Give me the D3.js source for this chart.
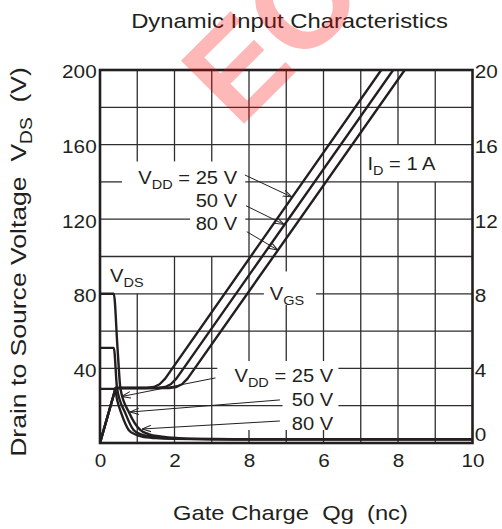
<!DOCTYPE html>
<html>
<head>
<meta charset="utf-8">
<script src="https://cdn.jsdelivr.net/npm/d3@7/dist/d3.min.js"></script>
<style>
  body { margin: 0; background: #fff; }
  text { font-family: "Liberation Sans", Arial, Helvetica, sans-serif; white-space: pre; }
</style>
</head>
<body>
<svg id="chart" width="502" height="529"></svg>
<script>
// ---- data ----
const qgTicks = [0, 2, 4, 6, 8, 10];
const qgTickLabels = ['0', '2', '8', '6', '8', '10'];   // printed that way on the original
const vdsTicks = [40, 80, 120, 160, 200];
const vgsTicks = [0, 4, 8, 12, 16, 20];
const vddLabels = ['25 V', '50 V', '80 V'];

// gate-source voltage (V) vs gate charge (nC), right axis
const vgs25 = [[0, 0], [0.42, 2.95], [1.25, 2.95], [1.45, 3.0], [1.6, 3.15], [1.75, 3.45], [7.55, 20]];
const vgs50 = [[0, 0], [0.42, 2.95], [1.55, 2.95], [1.75, 3.0], [1.9, 3.15], [2.05, 3.45], [7.87, 20]];
const vgs80 = [[0, 0], [0.42, 2.95], [1.85, 2.95], [2.05, 3.0], [2.2, 3.15], [2.35, 3.45], [8.18, 20]];

// drain-source voltage (V) vs gate charge (nC), left axis
const vds25 = [[0, 29], [0.4, 29], [0.46, 23], [0.57, 16], [0.77, 7], [0.95, 4.6], [1.13, 3.4], [1.5, 2.6], [2, 2.2], [3, 2], [10, 2]];
const vds50 = [[0, 51], [0.37, 51], [0.46, 29], [0.68, 16], [0.9, 7], [1.1, 4.7], [1.4, 3.4], [1.8, 2.6], [2.4, 2.2], [3.5, 2], [10, 2]];
const vds80 = [[0, 80], [0.37, 80], [0.47, 51], [0.55, 29], [0.79, 16], [1.08, 7], [1.3, 4.8], [1.66, 3.4], [2.1, 2.6], [2.7, 2.2], [4, 2], [10, 2]];

// ---- layout ----
const ink = '#231f20';
const svg = d3.select('#chart');
const x = d3.scaleLinear().domain([0, 10]).range([100, 472.5]);
const yL = d3.scaleLinear().domain([0, 200]).range([443, 70]);
const yR = d3.scaleLinear().domain([0, 20]).range([443, 70]);

svg.append('rect').attr('width', 502).attr('height', 529).attr('fill', '#fff');

svg.append('clipPath').attr('id', 'plot')
  .append('rect')
  .attr('x', x(0)).attr('y', yL(200))
  .attr('width', x(10) - x(0)).attr('height', yL(0) - yL(200));

// grid, with the gaps the original leaves behind its labels
const vGaps = { 1: [[80, 151]], 2: [[100, 151]], 3: [[100, 151]], 4: [[7, 44]], 5: [[74, 92], [7, 44]], 6: [[7, 44]], 8: [[140, 160]], 9: [[140, 160]] };
const hGaps = { 140: [[0.59, 3.9]], 120: [[2.42, 3.9]], 80: [[4.4, 5.8]], 40: [[3.15, 6.4]], 20: [[4.9, 6.4]] };

function segments(lo, hi, gaps) {
  let segs = [[lo, hi]];
  (gaps || []).forEach(([a, b]) => {
    segs = segs.flatMap(([s, e]) => {
      if (b <= s || a >= e) return [[s, e]];
      const out = [];
      if (a > s) out.push([s, a]);
      if (b < e) out.push([b, e]);
      return out;
    });
  });
  return segs;
}

const grid = svg.append('g').attr('stroke', '#2e2e2e').attr('stroke-width', 1.3);
d3.range(1, 10).forEach(q => {
  segments(0, 200, vGaps[q]).forEach(([a, b]) => {
    grid.append('line')
      .attr('x1', x(q)).attr('x2', x(q))
      .attr('y1', yL(a)).attr('y2', yL(b));
  });
});
d3.range(20, 200, 20).forEach(v => {
  segments(0, 10, hGaps[v]).forEach(([a, b]) => {
    grid.append('line')
      .attr('x1', x(a)).attr('x2', x(b))
      .attr('y1', yL(v)).attr('y2', yL(v));
  });
});

// curves
const lineL = d3.line().x(d => x(d[0])).y(d => yL(d[1])).curve(d3.curveMonotoneX);
const lineR = d3.line().x(d => x(d[0])).y(d => yR(d[1]));
const curves = svg.append('g').attr('clip-path', 'url(#plot)')
  .attr('fill', 'none').attr('stroke', ink).attr('stroke-width', 2.4)
  .attr('stroke-linejoin', 'round');
[vds25, vds50, vds80].forEach(s => curves.append('path').attr('d', lineL(s)));
[vgs25, vgs50, vgs80].forEach(s => curves.append('path').attr('d', lineR(s)));

// frame
svg.append('rect')
  .attr('x', x(0)).attr('y', yL(200))
  .attr('width', x(10) - x(0)).attr('height', yL(0) - yL(200))
  .attr('fill', 'none').attr('stroke', ink).attr('stroke-width', 2.6);

// axes (labels only)
function styleAxis(g) {
  g.select('.domain').remove();
  g.selectAll('text').attr('font-size', 18.5).attr('fill', ink)
    .attr('font-family', '"Liberation Sans", Arial, sans-serif')
    .attr('transform', 'scale(1.12,1)');
}
svg.append('g').attr('transform', `translate(${x(0)},0)`)
  .call(d3.axisLeft(yL).tickValues(vdsTicks).tickSize(0).tickPadding(3))
  .call(styleAxis)
  .selectAll('text').attr('y', 2);
svg.append('g').attr('transform', `translate(${x(10)},0)`)
  .call(d3.axisRight(yR).tickValues(vgsTicks).tickSize(0).tickPadding(2))
  .call(styleAxis)
  .selectAll('text').attr('y', d => d === 0 ? -8 : 2);
svg.append('g').attr('transform', `translate(0,${yL(0)})`)
  .call(d3.axisBottom(x).tickValues(qgTicks).tickFormat((d, i) => qgTickLabels[i]).tickSize(0).tickPadding(11))
  .call(styleAxis);

// text helper: parts are strings or {sub: '...'}
function richText(parts, o) {
  const t = svg.append('text')
    .attr('font-size', o.size)
    .attr('text-anchor', o.anchor || 'start')
    .attr('fill', ink);
  let prevSub = false;
  parts.forEach(p => {
    const sub = typeof p !== 'string';
    const s = t.append('tspan').text(sub ? p.sub : p);
    if (sub) s.attr('font-size', o.size * 0.72).attr('dy', o.size * 0.28);
    else if (prevSub) s.attr('dy', -o.size * 0.28);
    prevSub = sub;
  });
  const len = t.node().getComputedTextLength();
  const sx = o.width ? o.width / len : (o.sx || 1.06);
  t.attr('transform', `translate(${o.x},${o.y})${o.rotate ? ` rotate(${o.rotate})` : ''} scale(${sx},1)`);
  return t;
}

richText(['Dynamic Input Characteristics'], { x: 289.5, y: 28, size: 20, anchor: 'middle', width: 317 });
richText(['Gate Charge  Qg  (nc)'], { x: 290.5, y: 520, size: 20, anchor: 'middle', width: 235 });
richText(['Drain to Source Voltage  V', { sub: 'DS' }, '  (V)'], { x: 26, y: 262, size: 22, anchor: 'middle', rotate: -90, width: 390 });

richText(['V', { sub: 'DS' }], { x: x(0.27), y: yL(86.5), size: 19 });
richText(['V', { sub: 'GS' }], { x: x(4.56), y: yL(76.7), size: 19 });
richText(['I', { sub: 'D' }, ' = 1 A'], { x: x(7.18), y: yL(146.4), size: 19 });

// V_DD labels with leaders
const upper = [
  { y: 138.9, from: [3.89, 143.7], to: [5.15, 131.9] },
  { y: 126.7, from: [3.92, 127.2], to: [4.94, 117.2] },
  { y: 114.2, from: [3.94, 113.3], to: [4.77, 103.5] }
];
const lower = [
  { y: 32.9, from: [3.1, 34.9], to: [0.58, 24.9] },
  { y: 19.8, from: [4.83, 23.1], to: [0.81, 16.6] },
  { y: 7.0, from: [4.83, 11.8], to: [1.13, 7.5] }
];

const defs = svg.append('defs');
defs.append('marker').attr('id', 'arrow')
  .attr('viewBox', '0 -4 9 8').attr('refX', 9).attr('refY', 0)
  .attr('markerWidth', 9).attr('markerHeight', 8).attr('markerUnits', 'userSpaceOnUse')
  .attr('orient', 'auto')
  .append('path').attr('d', 'M0,-3.2L9,0L0,3.2')
  .attr('fill', 'none').attr('stroke', ink).attr('stroke-width', 1);

function leaders(set) {
  set.forEach(d => {
    svg.append('line')
      .attr('x1', x(d.from[0])).attr('y1', yL(d.from[1]))
      .attr('x2', x(d.to[0])).attr('y2', yL(d.to[1]))
      .attr('stroke', ink).attr('stroke-width', 1)
      .attr('marker-end', 'url(#arrow)');
  });
}
leaders(upper);
leaders(lower);

vddLabels.forEach((lab, i) => {
  const parts = i === 0 ? ['V', { sub: 'DD' }, ' = ' + lab] : [lab];
  richText(parts, { x: x(3.68), y: yL(upper[i].y), size: 19, anchor: 'end' });
  richText(parts, { x: x(6.26), y: yL(lower[i].y), size: 19, anchor: 'end' });
});

// watermark (partly outside the picture, as on the original)
svg.append('text')
  .attr('transform', 'translate(238,130) rotate(-45)')
  .attr('font-size', 130).attr('font-weight', 'bold')
  .attr('fill', '#ff0000').attr('fill-opacity', 0.28)
  .text('EC');
</script>
</body>
</html>
